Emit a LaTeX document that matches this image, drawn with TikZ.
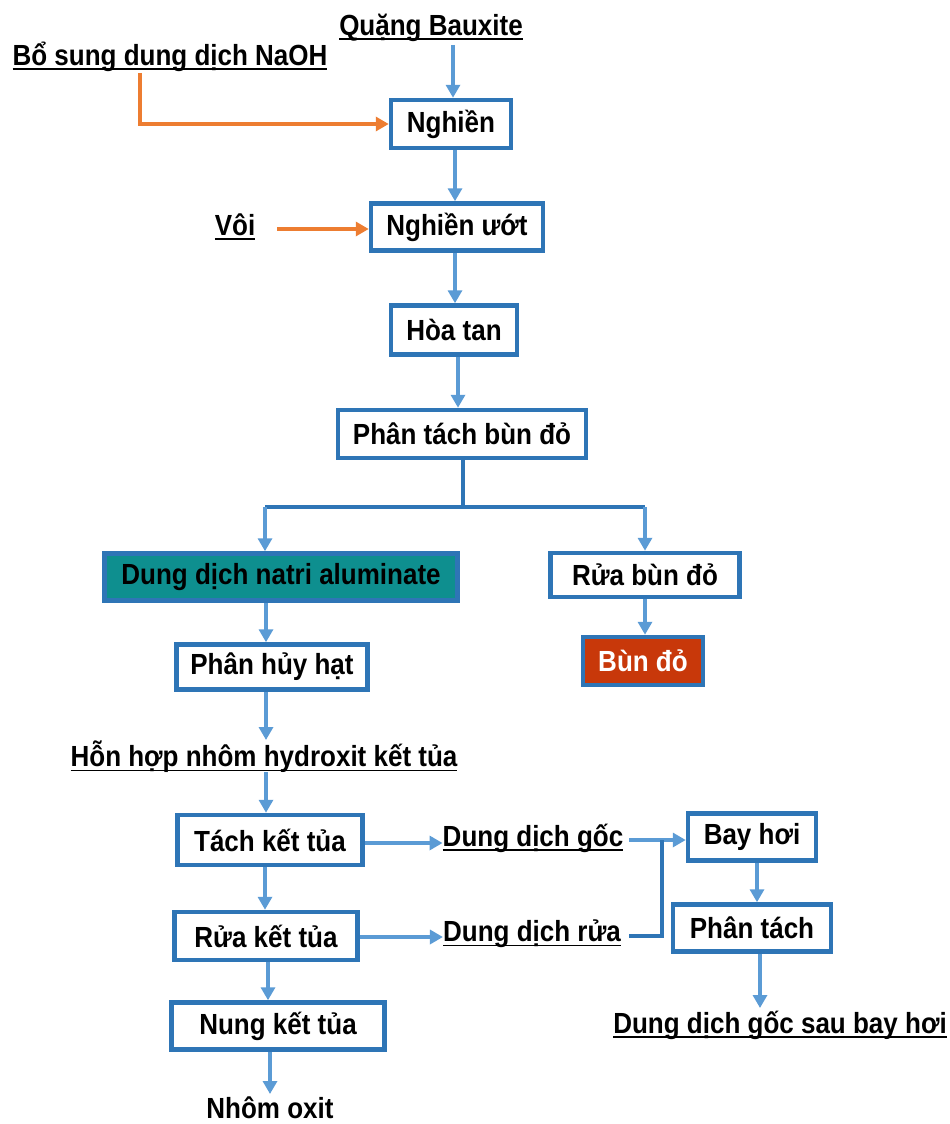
\documentclass[tikz,border=0pt]{standalone}
\usepackage{fontspec}
\usepackage{graphicx}
\setmainfont{Liberation Sans}
\usetikzlibrary{arrows.meta,calc}
\definecolor{boxblue}{HTML}{2E75B6}
\definecolor{arrblue}{HTML}{5B9BD5}
\definecolor{orng}{HTML}{ED7D31}
\definecolor{teal2}{HTML}{0E8F8F}
\definecolor{redbox}{HTML}{C8380A}
\newcommand\tx[1]{\scalebox{1}[1.12]{#1}}
\newcommand\ulx[1]{\setbox0\hbox{\tx{#1}}\rlap{\raisebox{-4.5pt}{\rule{\wd0}{1.8pt}}}\box0}
\tikzset{
  txt/.style={font=\fontsize{26}{30}\selectfont\bfseries, inner sep=0pt},
  pbox/.style={txt, draw=boxblue, line width=4.5pt, fill=white, anchor=center},
  arr/.style={draw=arrblue, line width=3.5pt, -{Triangle[length=13pt,width=14pt]}},
  oarr/.style={draw=orng, line width=3.5pt, -{Triangle[length=13pt,width=14pt]}},
  dline/.style={draw=boxblue, line width=3.5pt},
}
\begin{document}
\begin{tikzpicture}[x=1pt,y=-1pt]
\useasboundingbox (0,0) rectangle (950,1124);
% labels
\node[txt] (quang) at (431,28) {\ulx{Quặng Bauxite}};
\node[txt] (bosung) at (170,57) {\ulx{Bổ sung dung dịch NaOH}};
\node[txt] (voi) at (235,227) {\ulx{Vôi}};
\node[txt] (honhop) at (264,757) {\ulx{Hỗn hợp nhôm hydroxit kết tủa}};
\node[txt] (goc) at (533,838) {\ulx{Dung dịch gốc}};
\node[txt] (rua) at (532,934) {\ulx{Dung dịch rửa}};
\node[txt] (sau) at (780,1025) {\ulx{Dung dịch gốc sau bay hơi}};
\node[txt] (nhom) at (270,1108) {\tx{Nhôm oxit}};
% boxes
\node[pbox, minimum width=120pt, minimum height=48pt] (nghien) at (451,124) {\tx{Nghiền}};
\node[pbox, minimum width=172pt, minimum height=47pt] (nghienuot) at (457,227) {\tx{Nghiền ướt}};
\node[pbox, minimum width=126pt, minimum height=49pt] (hoatan) at (454,330) {\tx{Hòa tan}};
\node[pbox, minimum width=248pt, minimum height=48pt] (phantach) at (462,434) {\tx{Phân tách bùn đỏ}};
\node[pbox, fill=teal2, minimum width=353pt, minimum height=47pt] (natri) at (281,577) {\tx{Dung dịch natri aluminate}};
\node[pbox, minimum width=189pt, minimum height=44pt] (ruabun) at (645,575) {\tx{Rửa bùn đỏ}};
\node[pbox, fill=redbox, text=white, minimum width=120pt, minimum height=48pt] (bundo) at (643,661) {\tx{Bùn đỏ}};
\node[pbox, minimum width=191pt, minimum height=45pt] (phanhuy) at (272,667) {\tx{Phân hủy hạt}};
\node[pbox, minimum width=185pt, minimum height=50pt] (tach) at (270,840) {\tx{Tách kết tủa}};
\node[pbox, minimum width=183pt, minimum height=48pt] (ruaket) at (266,936) {\tx{Rửa kết tủa}};
\node[pbox, minimum width=213pt, minimum height=47pt] (nung) at (278,1026) {\tx{Nung kết tủa}};
\node[pbox, minimum width=128pt, minimum height=47pt] (bayhoi) at (752,837) {\tx{Bay hơi}};
\node[pbox, minimum width=158pt, minimum height=47pt] (phantach2) at (752,928) {\tx{Phân tách}};
% coordinates
\coordinate (qs) at (453,45);
\coordinate (bs) at (140,73);
\coordinate (vs) at (277,229);
\coordinate (split) at (463,507);
\coordinate (splitL) at (265,507);
\coordinate (splitR) at (645,507);
\coordinate (joinT) at (662,840);
\coordinate (joinB) at (662,936);
% connectors
\draw[arr] (qs) -- (qs |- nghien.north);
\draw[oarr] (bs) |- (nghien.west);
\draw[arr] (nghien.south -| 455,0) -- (455,0 |- nghienuot.north);
\draw[oarr] (vs) -- (nghienuot.west |- vs);
\draw[arr] (nghienuot.south -| 455,0) -- (455,0 |- hoatan.north);
\draw[arr] (hoatan.south -| 458,0) -- (458,0 |- phantach.north);
\draw[dline] (phantach.south -| split) -- (split);
\draw[dline] (splitL) -- (splitR);
\draw[arr] (splitL) -- (splitL |- natri.north);
\draw[arr] (splitR) -- (splitR |- ruabun.north);
\draw[arr] (ruabun.south -| 645,0) -- (645,0 |- bundo.north);
\draw[arr] (natri.south -| 266,0) -- (266,0 |- phanhuy.north);
\draw[arr] (phanhuy.south -| 266,0) -- (266,740);
\draw[arr] (266,772) -- (266,0 |- tach.north);
\draw[arr] (tach.south -| 265,0) -- (265,0 |- ruaket.north);
\draw[arr] (ruaket.south -| 268,0) -- (268,0 |- nung.north);
\draw[arr] (nung.south -| 270,0) -- (270,1094);
\draw[arr] (tach.east |- 0,843) -- (goc.west |- 0,843);
\draw[arr] (ruaket.east |- 0,937) -- (rua.west |- 0,937);
\draw[arr] ($(goc.east |- joinT)+(6,0)$) -- (bayhoi.west |- joinT);
\draw[dline] ($(rua.east |- joinB)+(8,0)$) -- (joinB) -- (joinT);
\draw[arr] (bayhoi.south -| 757,0) -- (757,0 |- phantach2.north);
\draw[arr] (phantach2.south -| 760,0) -- (760,1008);
\end{tikzpicture}
\end{document}
